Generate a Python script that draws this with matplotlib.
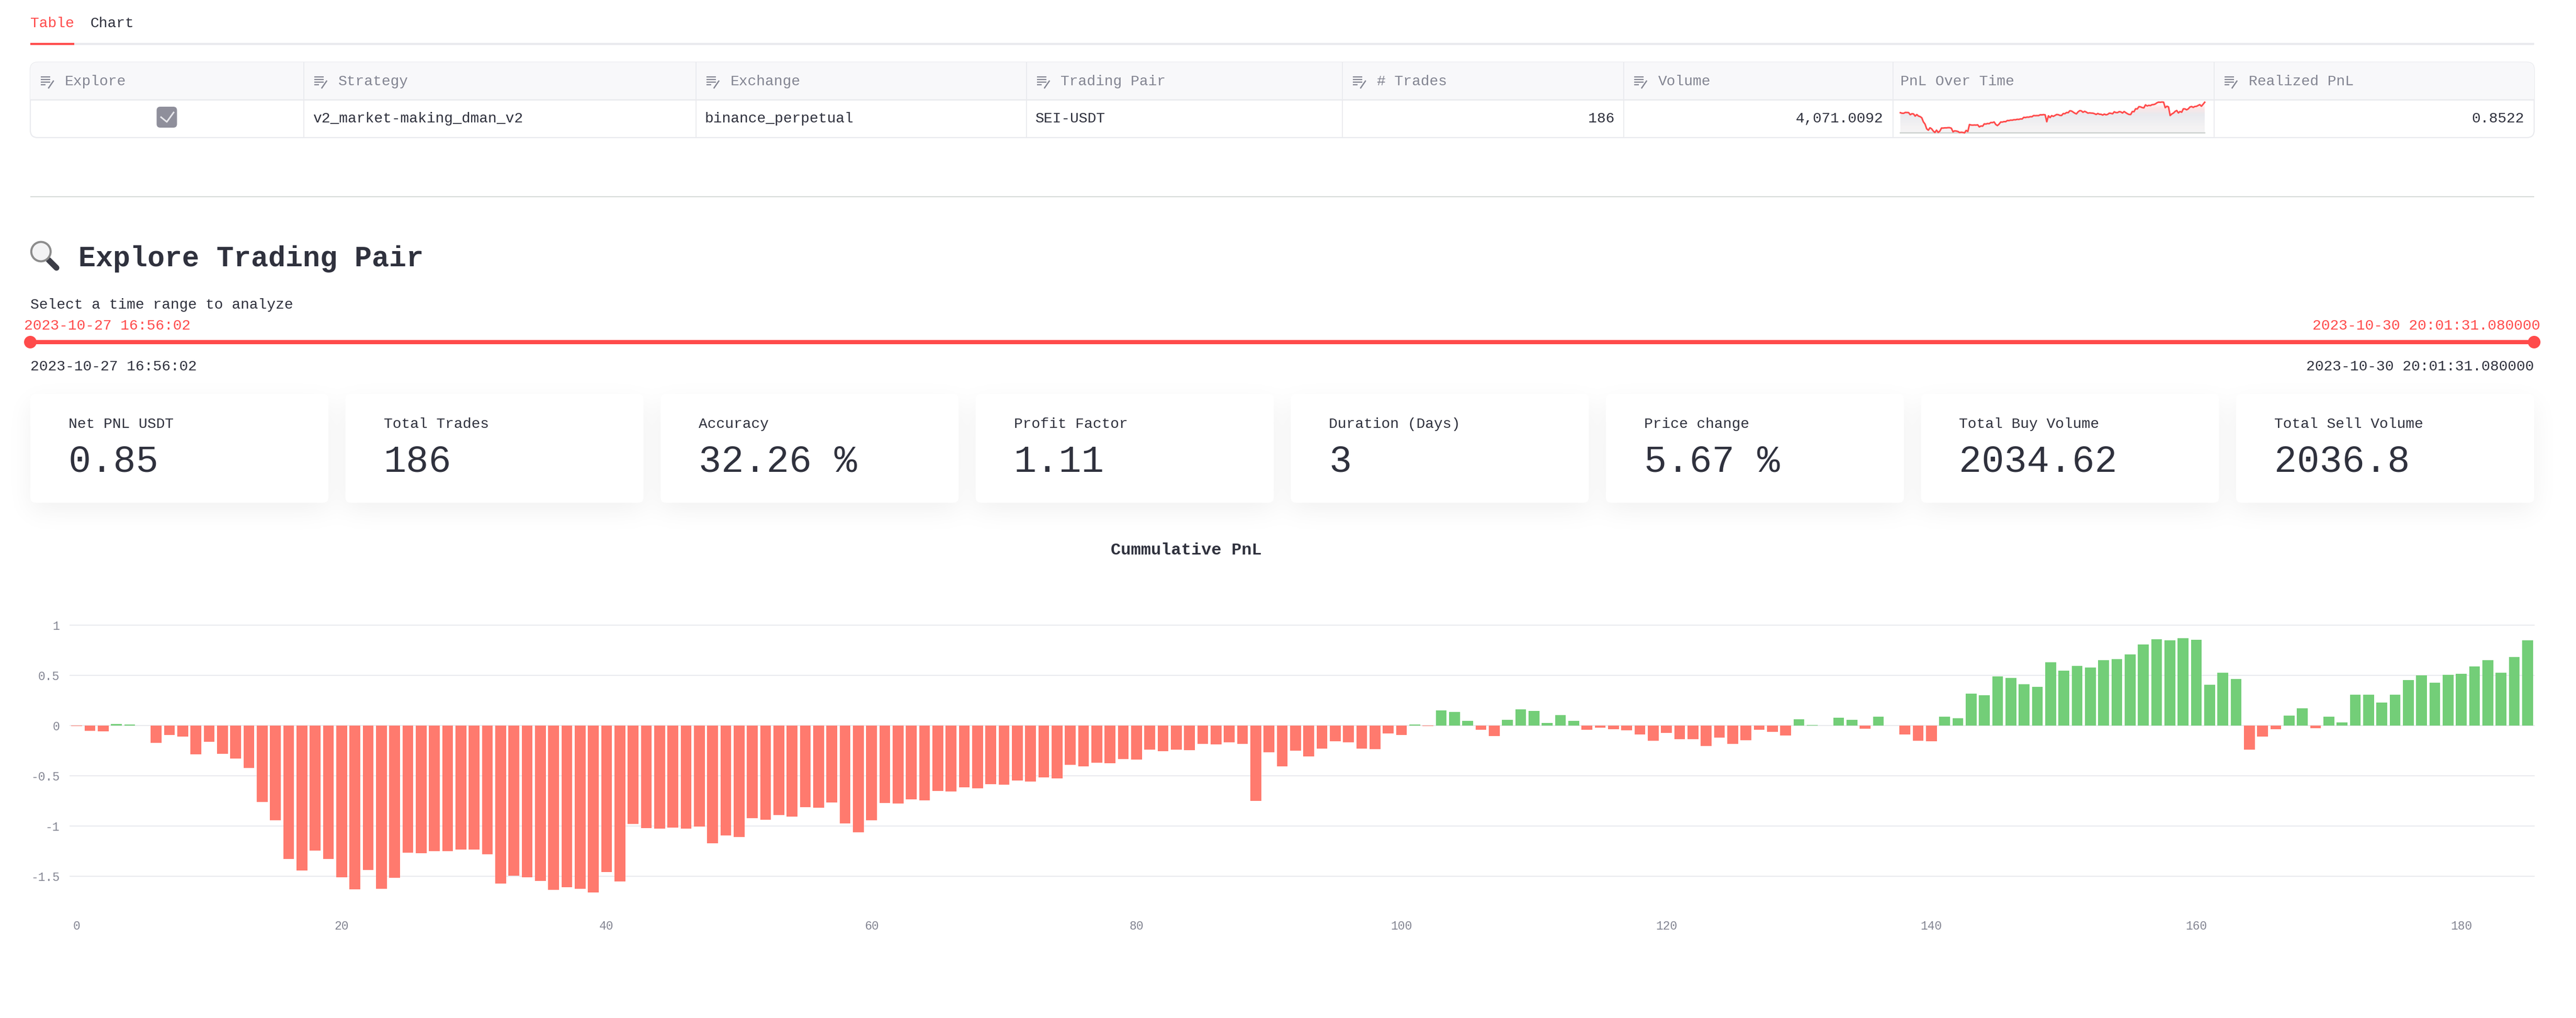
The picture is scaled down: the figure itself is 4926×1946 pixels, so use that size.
import math
import numpy as np
import matplotlib
matplotlib.use("Agg")
import matplotlib.pyplot as plt
from matplotlib.patches import FancyBboxPatch, Rectangle, Circle
from matplotlib.colors import LinearSegmentedColormap

# ---------- data ----------
cum_pnl = [
 -0.007,-0.05,-0.056,0.014,0.009,0.002,-0.172,-0.093,-0.108,-0.285,
 -0.16,-0.282,-0.327,-0.42,-0.761,-0.942,-1.328,-1.443,-1.244,-1.33,
 -1.513,-1.628,-1.439,-1.624,-1.518,-1.267,-1.269,-1.249,-1.251,-1.233,
 -1.235,-1.283,-1.574,-1.495,-1.513,-1.547,-1.635,-1.61,-1.626,-1.662,
 -1.459,-1.551,-0.978,-1.019,-1.028,-1.016,-1.025,-1.005,-1.172,-1.095,
 -1.111,-0.924,-0.939,-0.892,-0.906,-0.811,-0.818,-0.768,-0.976,-1.064,
 -0.944,-0.772,-0.777,-0.736,-0.745,-0.65,-0.657,-0.617,-0.623,-0.583,
 -0.589,-0.549,-0.558,-0.517,-0.524,-0.391,-0.407,-0.368,-0.375,-0.332,
 -0.339,-0.239,-0.253,-0.242,-0.246,-0.181,-0.187,-0.165,-0.181,-0.75,
 -0.264,-0.407,-0.248,-0.309,-0.23,-0.156,-0.169,-0.23,-0.233,-0.079,
 -0.093,0.009,-0.007,0.149,0.133,0.045,-0.043,-0.106,0.056,0.16,
 0.145,0.027,0.106,0.045,-0.043,-0.02,-0.038,-0.045,-0.088,-0.151,
 -0.072,-0.133,-0.138,-0.201,-0.122,-0.183,-0.147,-0.043,-0.061,-0.097,
 0.065,0.005,0.0,0.077,0.059,-0.032,0.088,0.002,-0.088,-0.151,
 -0.156,0.09,0.072,0.316,0.3,0.488,0.472,0.411,0.388,0.632,
 0.547,0.592,0.576,0.65,0.659,0.709,0.806,0.858,0.847,0.869,
 0.854,0.404,0.524,0.463,-0.239,-0.111,-0.038,0.097,0.172,-0.025,
 0.09,0.032,0.309,0.307,0.228,0.307,0.454,0.501,0.429,0.504,
 0.515,0.587,0.653,0.524,0.682,0.849]
trade_index = list(range(len(cum_pnl)))
x_ticks = [0, 20, 40, 60, 80, 100, 120, 140, 160, 180]
y_ticks = [-1.5, -1, -0.5, 0, 0.5, 1]
y_tick_labels = ["-1.5", "-1", "-0.5", "0", "0.5", "1"]

tabs = ["Table", "Chart"]
col_names = ["Explore", "Strategy", "Exchange", "Trading Pair", "# Trades", "Volume", "PnL Over Time", "Realized PnL"]
strategy = "v2_market-making_dman_v2"
exchange = "binance_perpetual"
pair = "SEI-USDT"
n_trades = "186"
volume = "4,071.0092"
realized = "0.8522"
range_start = "2023-10-27 16:56:02"
range_end = "2023-10-30 20:01:31.080000"
metric_labels = ["Net PNL USDT", "Total Trades", "Accuracy", "Profit Factor", "Duration (Days)", "Price change", "Total Buy Volume", "Total Sell Volume"]
metric_values = ["0.85", "186", "32.26 %", "1.11", "3", "5.67 %", "2034.62", "2036.8"]

# ---------- style ----------
W, H = 4926, 1946
FONT = "Liberation Mono"
INK = "#2F313D"
GRAY = "#838592"
RED = "#FF4B4B"
BORDER = "#E9EAEE"
BAR_RED = "#FF7A6E"
BAR_GREEN = "#73CE78"
plt.rcParams["font.family"] = [FONT, "DejaVu Sans Mono"]

fig = plt.figure(figsize=(W / 100, H / 100), dpi=100, facecolor="white")
ui = fig.add_axes([0, 0, 1, 1], zorder=0)
ui.set_xlim(0, W)
ui.set_ylim(H, 0)
ui.axis("off")


def px(size):
    return size * 0.72


def text(x, y, s, size=28, color=INK, ha="left", weight="normal"):
    ui.text(x, y, s, fontsize=px(size), color=color, ha=ha, va="baseline",
            fontweight=weight, family=[FONT, "DejaVu Sans Mono"])


def hline(x0, x1, y, color=BORDER, lw=2):
    ui.plot([x0, x1], [y, y], color=color, lw=px(lw), solid_capstyle="butt")


LEFT, RIGHT = 58, 4846

# ---------- tabs ----------
text(58, 52, tabs[0], color=RED)
text(173, 52, tabs[1])
ui.add_patch(Rectangle((LEFT, 82), RIGHT - LEFT, 4, fc=BORDER, ec="none"))
ui.add_patch(Rectangle((LEFT, 82), 84, 4, fc=RED, ec="none"))

# ---------- table ----------
T0, T1, TH = 119, 263, 191
seps = [580.5, 1330.5, 1962.5, 2567, 3104.5, 3619.5, 4233.5]
outer = FancyBboxPatch((LEFT, T0), RIGHT - LEFT, T1 - T0, boxstyle="round,pad=0,rounding_size=14",
                       fc="white", ec=BORDER, lw=px(2.2), zorder=1)
ui.add_patch(outer)
head = Rectangle((LEFT, T0), RIGHT - LEFT, TH - T0, fc="#F8F8FA", ec="none", zorder=1.1)
ui.add_patch(head)
head.set_clip_path(outer)
ui.plot([LEFT, RIGHT], [TH, TH], color=BORDER, lw=px(2.5), zorder=2, solid_capstyle="butt")
for s in seps:
    ui.plot([s, s], [T0, T1], color=BORDER, lw=px(1.8), zorder=2, solid_capstyle="butt")
col_left = [LEFT] + seps
for i, (c, name) in enumerate(zip(col_left, col_names)):
    has_icon = name != "PnL Over Time"
    tx = c + (66 if has_icon else 15)
    if has_icon:
        x0 = c + 20
        for yy, ln in ((147, 18), (152, 18), (157, 18), (162, 9)):
            ui.plot([x0, x0 + ln], [yy, yy], color=GRAY, lw=px(2.2), zorder=3, solid_capstyle="butt")
        ui.plot([x0 + 24, x0 + 15], [155, 168], color=GRAY, lw=px(2.5), zorder=3)
    text(tx, 163, name, color=GRAY)
ui.add_patch(FancyBboxPatch((299.5, 204), 39, 40, boxstyle="round,pad=0,rounding_size=7", fc="#8F8F9B", ec="none", zorder=3))
ui.plot([308, 319, 332], [224, 233, 215], color="#E8E8EC", lw=px(3), zorder=4)
text(598, 234, strategy)
text(1348, 234, exchange)
text(1980, 234, pair)
text(3087.5, 234, n_trades, ha="right")
text(3601, 234, volume, ha="right")
text(4827, 234, realized, ha="right")

# ---------- divider, heading ----------
hline(LEFT, RIGHT, 376, color="#D6DAD8", lw=2)
ui.plot([93, 108], [497, 512], color="#3C3D47", lw=px(11), solid_capstyle="round", zorder=2)
ui.add_patch(Circle((78.3, 481), 18.5, fc="#F3F3F4", ec="#8C8C8C", lw=px(4), zorder=3))
text(150, 509, "Explore Trading Pair", size=55, weight="bold")
text(58, 590, "Select a time range to analyze")

# ---------- slider ----------
ui.add_patch(Rectangle((LEFT, 650), RIGHT - LEFT, 8, fc=RED, ec="none"))
ui.add_patch(Circle((LEFT, 654), 12, fc=RED, ec="none"))
ui.add_patch(Circle((RIGHT, 654), 12, fc=RED, ec="none"))
text(46, 630, range_start, color=RED)
text(4858, 630, range_end, color=RED, ha="right")
text(LEFT, 707.5, range_start)
text(RIGHT, 707.5, range_end, ha="right")

# ---------- metric cards ----------
C0, C1 = 753, 961
card_w, pitch = 570, (4276 - 58) / 7
cards_x = [LEFT + i * pitch for i in range(8)]
erf = np.vectorize(math.erf)
SIG, OFF, AMP = 24 * math.sqrt(2), 16, 0.066
gx, gy = np.arange(W) + 0.5, np.arange(670, 1090) + 0.5
prof_y = 0.5 * (erf((gy - C0 - OFF) / SIG) - erf((gy - C1 - OFF) / SIG))
keep = np.ones((gy.size, gx.size))
for cx in cards_x:
    prof_x = 0.5 * (erf((gx - cx) / SIG) - erf((gx - cx - card_w) / SIG))
    keep *= 1 - AMP * np.outer(prof_y, prof_x)
shade = 0.13 + 0.87 * keep  # dark tint toward the ink colour
ui.imshow(shade, cmap="gray", vmin=0, vmax=1, extent=(0, W, 1090, 670), aspect="auto", zorder=0.5, interpolation="bilinear")
ui.set_xlim(0, W)
ui.set_ylim(H, 0)
for cx, lab, val in zip(cards_x, metric_labels, metric_values):
    ui.add_patch(FancyBboxPatch((cx, C0), card_w, C1 - C0, boxstyle="round,pad=0,rounding_size=10", fc="white", ec="none", zorder=1))
    ui.text(cx + 73, 817.5, lab, fontsize=px(28), color=INK, ha="left", va="baseline", zorder=2)
    ui.text(cx + 73, 902, val, fontsize=px(72), color=INK, ha="left", va="baseline", zorder=2)

# ---------- chart ----------
text(2268, 1060, "Cummulative PnL", size=32, weight="bold", ha="center")
AX_L, AX_R, AX_T, AX_B = 134, 4846, 1195, 1723
ax = fig.add_axes([AX_L / W, 1 - AX_B / H, (AX_R - AX_L) / W, (AX_B - AX_T) / H], zorder=2)
ax.patch.set_alpha(0)
colors = [BAR_GREEN if v >= 0 else BAR_RED for v in cum_pnl]
ax.bar(trade_index, cum_pnl, width=0.81, color=colors, zorder=3, linewidth=0)
ax.set_xlim(-0.5, 185.5)
ax.set_ylim(-1.75, 1.0)
ax.set_xticks(x_ticks)
ax.set_yticks(y_ticks)
ax.set_yticklabels(y_tick_labels)
ax.grid(axis="y", color=BORDER, lw=px(2), zorder=0)
ax.grid(axis="x", visible=False)
for g in ax.get_ygridlines():
    g.set_clip_on(False)
ax.set_axisbelow(True)
for sp in ax.spines.values():
    sp.set_visible(False)
ax.tick_params(axis="both", length=0, labelsize=px(23), labelcolor=GRAY)
ax.tick_params(axis="x", pad=px(36))
ax.tick_params(axis="y", pad=px(20))

# ---------- sparkline ----------
S_L, S_R, S_T, S_B = 3634, 4216, 195, 254
sp = fig.add_axes([S_L / W, 1 - S_B / H, (S_R - S_L) / W, (S_B - S_T) / H], zorder=3)
sp.patch.set_alpha(0)
sp.axis("off")
sx, sy = np.array(trade_index), np.array(cum_pnl)
lo, hi = sy.min(), sy.max()
fill = sp.fill_between(sx, sy, lo, color="none", lw=0)
cm = LinearSegmentedColormap.from_list("spark", ["#FFFFFF", "#FBE6E6", "#E9EAEE", "#EEEEF1", "#F4F2F3", "#F6F5F6"])
im = sp.imshow(np.linspace(0, 1, 128).reshape(-1, 1), cmap=cm, extent=(0, len(sy) - 1, lo, hi), aspect="auto", origin="upper")
im.set_clip_path(fill.get_paths()[0], transform=sp.transData)
sp.plot(sx, sy, color=RED, lw=px(3), clip_on=False, solid_joinstyle="round")
sp.plot([sx[0], sx[-1]], [lo, lo], color="#CDD2CF", lw=px(2.5), clip_on=False, zorder=1.5)
sp.set_xlim(sx[0], sx[-1])
sp.set_ylim(lo, hi)

fig.savefig("out.png", dpi=100, facecolor="white")
